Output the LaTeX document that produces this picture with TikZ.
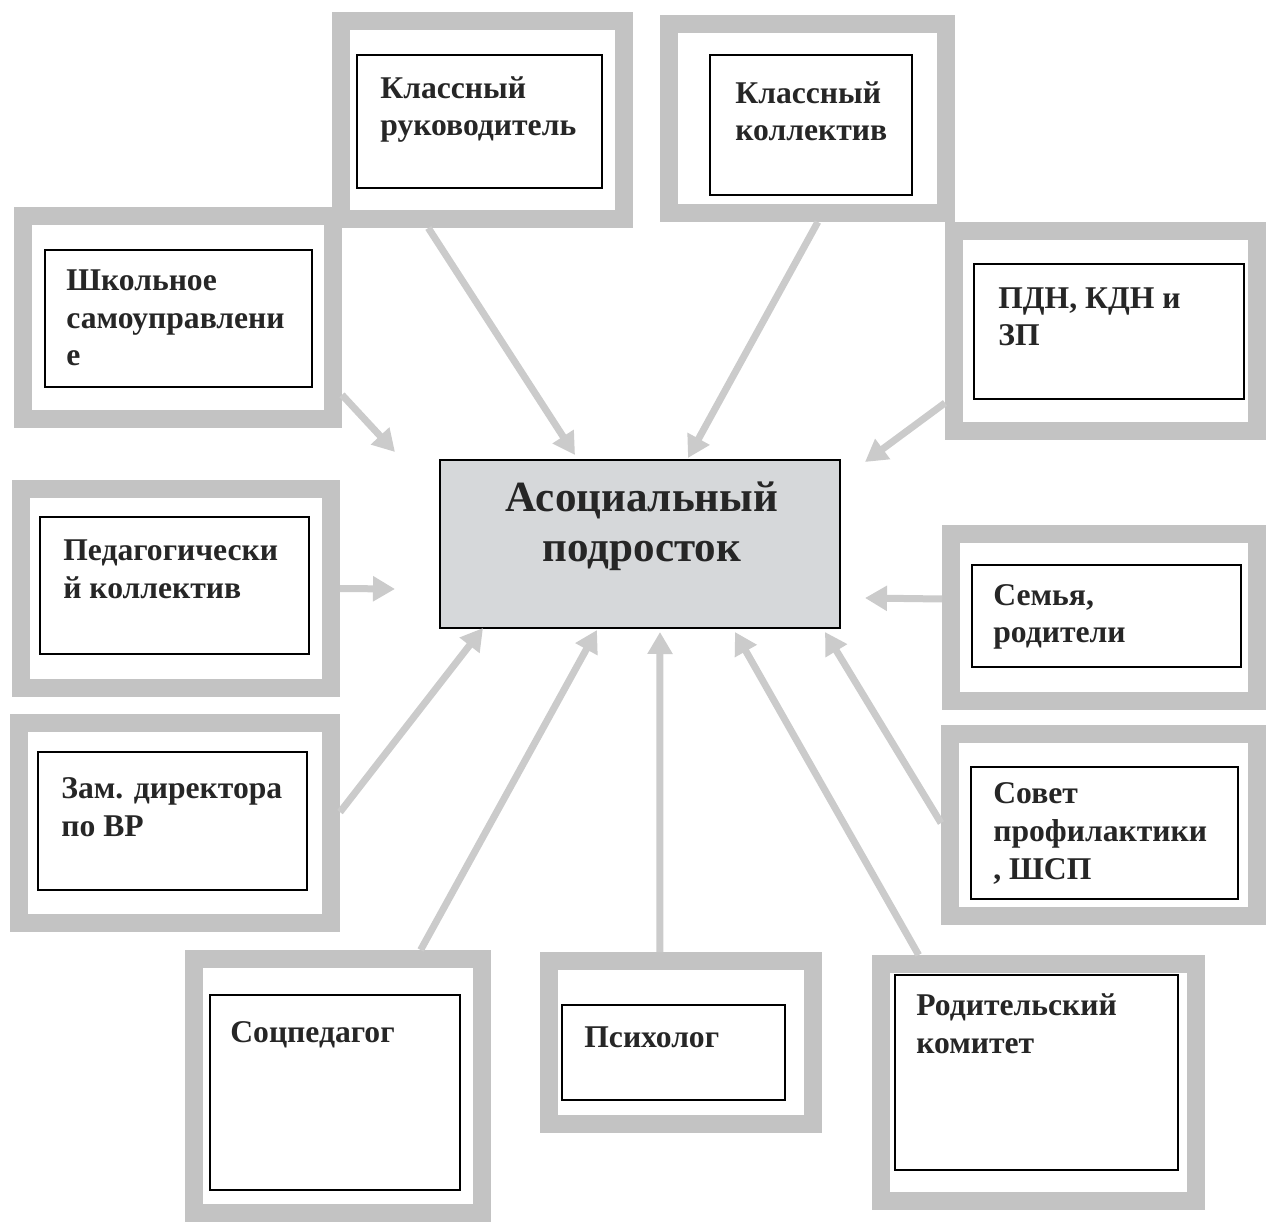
\documentclass[tikz,border=0pt]{standalone}
\usepackage{fontspec}
\setmainfont{Liberation Serif}
\usetikzlibrary{positioning, arrows.meta, calc}
\usepackage{xcolor}
\definecolor{ramgray}{HTML}{C3C3C3}
\definecolor{strgray}{HTML}{CBCBCB}
\definecolor{cenfill}{HTML}{D6D8DA}
\definecolor{txtdark}{HTML}{262626}

\begin{document}
\begin{tikzpicture}[x=0.2mm, y=-0.2mm,
    ramka/.style={draw=ramgray, line width=3.6mm},
    vnutr/.style={draw=black, line width=0.6pt},
    nadpis/.style={anchor=base west, align=left, inner sep=0pt, text=txtdark,
      font=\bfseries\fontsize{18}{21.5}\selectfont},
    strelka/.style={draw=strgray, line width=1.4mm, -{Triangle[length=4.4mm, width=4.8mm]}}]
    \useasboundingbox (0,0) rectangle (1266,1229);
    % верх (подписи привязаны к базовой линии последней строки)
    \node[ramka, minimum width=56.6mm, minimum height=39.6mm] (kr) at (482.5,120) {};
    \node[vnutr, minimum width=49mm, minimum height=26.6mm] (kr-v) at (479.5,121.5) {};
    \node[nadpis] at (380,136) {Классный\\руководитель};
    \node[ramka, minimum width=55.4mm, minimum height=37.8mm] (kk) at (807.5,118.5) {};
    \node[vnutr, minimum width=40.4mm, minimum height=28mm] (kk-v) at (811,125) {};
    \node[nadpis] at (735,141) {Классный\\коллектив};
    % левая колонка
    \node[ramka, minimum width=62mm, minimum height=40.6mm] (shs) at (178,317.5) {};
    \node[vnutr, minimum width=53.4mm, minimum height=27.4mm] (shs-v) at (178.5,318.5) {};
    \node[nadpis] at (66,366) {Школьное\\самоуправлени\\е};
    \node[ramka, minimum width=62mm, minimum height=39.8mm] (pk) at (176,588.5) {};
    \node[vnutr, minimum width=53.8mm, minimum height=27.4mm] (pk-v) at (174.5,585.5) {};
    \node[nadpis] at (63,598) {Педагогически\\й коллектив};
    \node[ramka, minimum width=62.4mm, minimum height=40mm] (zam) at (175,823) {};
    \node[vnutr, minimum width=53.8mm, minimum height=27.6mm] (zam-v) at (172.5,821) {};
    \node[nadpis] at (61,836) {Зам. директора\\по ВР};
    % правая колонка
    \node[ramka, minimum width=60.6mm, minimum height=40mm] (pdn) at (1105.5,331) {};
    \node[vnutr, minimum width=54mm, minimum height=27mm] (pdn-v) at (1109,331.5) {};
    \node[nadpis] at (998,346) {ПДН, КДН и\\ЗП};
    \node[ramka, minimum width=61.2mm, minimum height=33.4mm] (sem) at (1104,617.5) {};
    \node[vnutr, minimum width=53.8mm, minimum height=20.4mm] (sem-v) at (1106.5,616) {};
    \node[nadpis] at (993,643) {Семья,\\родители};
    \node[ramka, minimum width=61.4mm, minimum height=36.4mm] (sov) at (1103.5,825) {};
    \node[vnutr, minimum width=53.4mm, minimum height=26.4mm] (sov-v) at (1104.5,833) {};
    \node[nadpis] at (993,879) {Совет\\профилактики\\, ШСП};
    % низ
    \node[ramka, minimum width=57.6mm, minimum height=50.8mm] (soc) at (338,1086) {};
    \node[vnutr, minimum width=50mm, minimum height=39mm] (soc-v) at (335,1092.5) {};
    \node[nadpis] at (230,1042) {Соцпедагог};
    \node[ramka, minimum width=52.8mm, minimum height=32.6mm] (psi) at (681,1042.5) {};
    \node[vnutr, minimum width=44.6mm, minimum height=19mm] (psi-v) at (673.5,1052.5) {};
    \node[nadpis] at (584,1047) {Психолог};
    \node[ramka, minimum width=63mm, minimum height=47.4mm] (rk) at (1038.5,1082.5) {};
    \node[vnutr, minimum width=56.6mm, minimum height=39mm] (rk-v) at (1036.5,1072.5) {};
    \node[nadpis] at (916,1053) {Родительский\\комитет};
    % центр
    \node[draw=black, line width=0.8pt, fill=cenfill, minimum width=80mm, minimum height=33.6mm] (pod) at (640,544) {};
    \node[anchor=base, align=center, inner sep=0pt, text=txtdark,
      font=\bfseries\fontsize{24.5}{28.5}\selectfont] (pod-t) at (642,562) {Асоциальный\\подросток};
    % стрелки
    \coordinate (t-kr) at (575,455);
    \coordinate (t-kk) at (688,458);
    \coordinate (t-shs) at (395,452);
    \coordinate (t-pdn) at (865,462);
    \coordinate (t-pk) at (395,589);
    \coordinate (t-sem) at (865,598);
    \coordinate (t-zam) at (483,628);
    \coordinate (t-soc) at (597,630);
    \coordinate (t-psi) at (660,632);
    \coordinate (t-rk) at (735,632);
    \coordinate (t-sov) at (825,632);
    \draw[strelka] ($(kr.south west)!0.32!(kr.south east)$) -- (t-kr);
    \draw[strelka] ($(kk.south west)!0.535!(kk.south east)$) -- (t-kk);
    \draw[strelka] ($(shs.north east)!0.85!(shs.south east)$) -- (t-shs);
    \draw[strelka] ($(pdn.north west)!0.83!(pdn.south west)$) -- (t-pdn);
    \draw[strelka] (pk.east) -- (t-pk);
    \draw[strelka] ($(sem.north west)!0.4!(sem.south west)$) -- (t-sem);
    \draw[strelka] ($(zam.north east)!0.45!(zam.south east)$) -- (t-zam);
    \draw[strelka] ($(soc.north west)!0.77!(soc.north east)$) -- (t-soc);
    \draw[strelka] ($(psi.north west)!0.425!(psi.north east)$) -- (t-psi);
    \draw[strelka] ($(rk.north west)!0.14!(rk.north east)$) -- (t-rk);
    \draw[strelka] ($(sov.north west)!0.49!(sov.south west)$) -- (t-sov);
\end{tikzpicture}
\end{document}
